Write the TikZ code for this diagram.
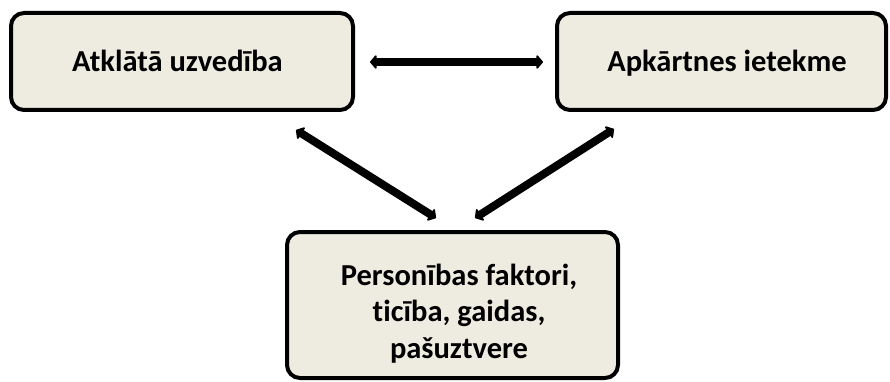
\documentclass[tikz,border=0pt]{standalone}
\usepackage{fontspec}
\setmainfont{Carlito}[Ligatures=NoCommon]
\usetikzlibrary{arrows.meta}
\definecolor{boxfill}{HTML}{EEECE1}
\tikzset{
  box/.style={draw=black, line width=4pt, fill=boxfill, rounded corners=13pt, inner sep=0pt},
  label/.style={font=\fontsize{30.5}{36.5}\selectfont\bfseries, align=center, anchor=base, inner sep=0pt},
  link/.style={line width=8pt, {Triangle[round,length=7pt,width=16pt]}-{Triangle[round,length=7pt,width=16pt]}}
}
\begin{document}
\begin{tikzpicture}[x=1pt,y=-1pt]
\useasboundingbox (0,0) rectangle (890,382);
\node[box, minimum width=342pt, minimum height=97pt] (a) at (182,61.5) {};
\node[label] (at) at (177.5,72) {Atklātā uzvedība};
\node[box, minimum width=329pt, minimum height=97pt] (b) at (721.5,61.5) {};
\node[label] (bt) at (727,72) {Apkārtnes ietekme};
\node[box, minimum width=331pt, minimum height=146pt] (c) at (452.5,305) {};
\node[label] (ct) at (459,358) {Personības faktori,\\ticība, gaidas,\\pašuztvere};
\coordinate (a1) at (370,62);
\coordinate (b1) at (543,62);
\draw[link] (a1) -- (b1);
\coordinate (a2) at (296,130);
\coordinate (c2) at (436,218);
\draw[link] (a2) -- (c2);
\coordinate (b3) at (614,129);
\coordinate (c3) at (475,218);
\draw[link] (b3) -- (c3);
\end{tikzpicture}
\end{document}
